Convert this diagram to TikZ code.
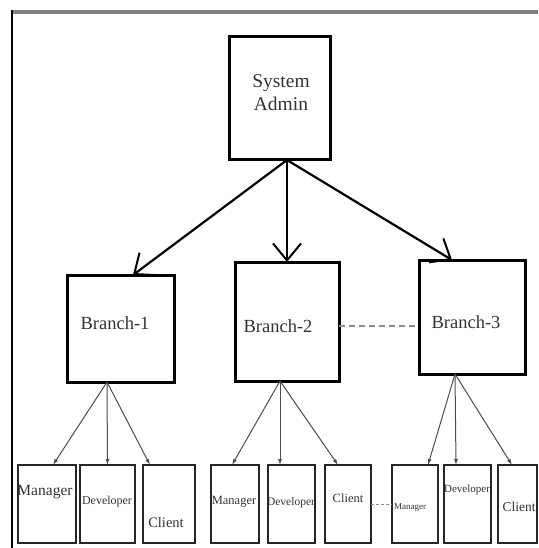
\documentclass[tikz,border=0pt]{standalone}
\usepackage{fontspec}
\setmainfont{Liberation Serif}
\usetikzlibrary{arrows.meta}

\begin{document}
\begin{tikzpicture}[x=1pt,y=-1pt,
  mainbox/.style={draw=black, line width=3pt, inner sep=0pt, outer sep=0pt},
  leafbox/.style={draw=black!85, line width=1.8pt, inner sep=0pt, outer sep=0pt, minimum height=78pt},
  txt/.style={text=black!80, inner sep=0pt, align=center},
  bigarrow/.style={line width=2.2pt, -{Straight Barb[length=17pt,width=28pt,line width=2pt]}},
  smallarrow/.style={draw=black!70, line width=1pt, -{Latex[length=6pt,width=4pt]}},
  linkline/.style={draw=black!45, line width=1.5pt, dash pattern=on 6pt off 4pt}]
            \useasboundingbox (0,0) rectangle (538,548);
            \draw[black!50, line width=4pt] (11,12) -- (538,12);
            \draw[black, line width=2pt] (12,10) -- (12,548);
            \node[mainbox, minimum width=101pt, minimum height=123pt] (sa) at (279.5,98.5) {};
            \node[mainbox, minimum width=107pt, minimum height=107pt] (b1) at (120.5,328.5) {};
            \node[mainbox, minimum width=104pt, minimum height=119pt] (b2) at (287,321.5) {};
            \node[mainbox, minimum width=106pt, minimum height=114pt] (b3) at (472,317) {};
            \node[leafbox, minimum width=58pt] (m1) at (47,504) {};
            \node[leafbox, minimum width=55pt] (d1) at (107.5,504) {};
            \node[leafbox, minimum width=52pt] (c1) at (169,504) {};
            \node[leafbox, minimum width=48pt] (m2) at (235,504) {};
            \node[leafbox, minimum width=47pt] (d2) at (291.5,504) {};
            \node[leafbox, minimum width=46pt] (c2) at (348,504) {};
            \node[leafbox, minimum width=46pt] (m3) at (415,504) {};
            \node[leafbox, minimum width=47pt] (d3) at (467.5,504) {};
            \node[leafbox, minimum width=39pt] (c3) at (517.5,504) {};
            \node[txt, font=\fontsize{19.5}{23}\selectfont] at (281,93) {System\\Admin};
            \node[txt, font=\fontsize{18.5}{22}\selectfont] at (115,323) {Branch-1};
            \node[txt, font=\fontsize{18.5}{22}\selectfont] at (278,326) {Branch-2};
            \node[txt, font=\fontsize{18.5}{22}\selectfont] at (466,322) {Branch-3};
            \node[txt, font=\fontsize{15.5}{18}\selectfont] at (45,492) {Manager};
            \node[txt, font=\fontsize{12}{14}\selectfont] at (107,502) {Developer};
            \node[txt, font=\fontsize{14.5}{17}\selectfont] at (166,523) {Client};
            \node[txt, font=\fontsize{12.5}{15}\selectfont] at (234,502) {Manager};
            \node[txt, font=\fontsize{11.5}{14}\selectfont] at (291,503) {Developer};
            \node[txt, font=\fontsize{12.5}{14}\selectfont] at (348,498) {Client};
            \node[txt, font=\fontsize{9}{11}\selectfont] at (410,508) {Manager};
            \node[txt, font=\fontsize{11}{13}\selectfont] at (467,490) {Developer};
            \node[txt, font=\fontsize{13.5}{16}\selectfont] at (519,507) {Client};
            \draw[bigarrow] ([xshift=7.5pt]sa.south) -- ([xshift=12.5pt]b1.north);
            \draw[bigarrow] ([xshift=7.5pt]sa.south) -- (b2.north);
            \draw[bigarrow] ([xshift=7.5pt]sa.south) -- ([xshift=-20pt]b3.north);
            \draw[smallarrow] ([xshift=-13.5pt]b1.south) -- ([xshift=6pt]m1.north);
            \draw[smallarrow] ([xshift=-13.5pt]b1.south) -- (d1.north);
            \draw[smallarrow] ([xshift=-13.5pt]b1.south) -- ([xshift=-19pt]c1.north);
            \draw[smallarrow] ([xshift=-7pt]b2.south) -- ([xshift=-3pt]m2.north);
            \draw[smallarrow] ([xshift=-7pt]b2.south) -- ([xshift=-11.5pt]d2.north);
            \draw[smallarrow] ([xshift=-7pt]b2.south) -- ([xshift=-10pt]c2.north);
            \draw[smallarrow] ([xshift=-17pt]b3.south) -- ([xshift=13pt]m3.north);
            \draw[smallarrow] ([xshift=-17pt]b3.south) -- ([xshift=-11.5pt]d3.north);
            \draw[smallarrow] ([xshift=-17pt]b3.south) -- ([xshift=-5.5pt]c3.north);
            \draw[linkline] ([yshift=-4.5pt]b2.east) -- ([yshift=-9pt]b3.west);
            \draw[linkline, line width=1pt, dash pattern=on 3pt off 2pt] (c2.east) -- (m3.west);
        \end{tikzpicture}
\end{document}
